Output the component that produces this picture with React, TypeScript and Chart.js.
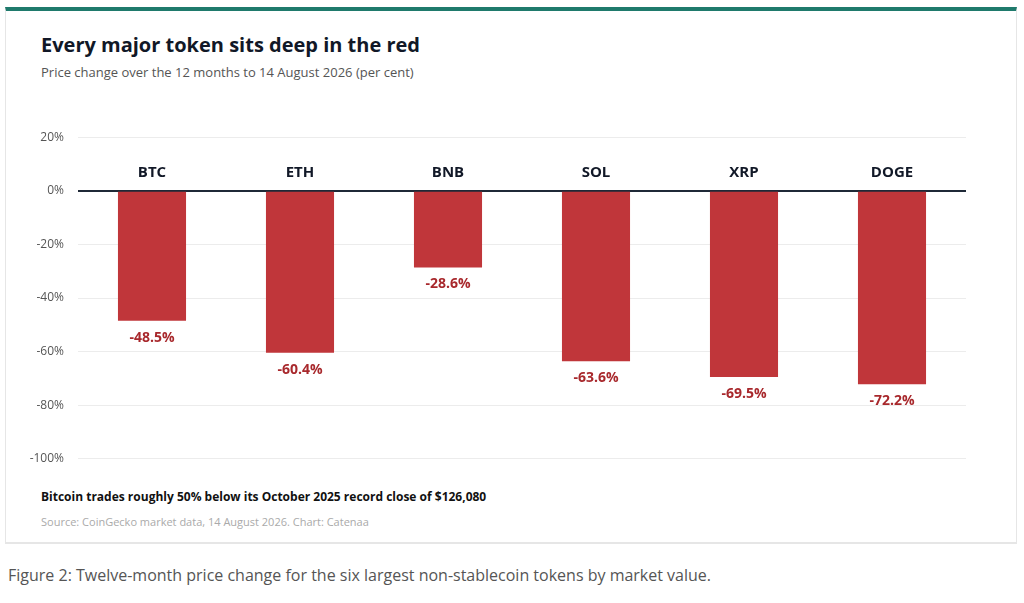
import { Chart, registerables } from "chart.js";
import { useEffect, useRef } from "react";

Chart.register(...registerables);

const tokens = ["BTC", "ETH", "BNB", "SOL", "XRP", "DOGE"];
const changes = [-48.5, -60.4, -28.6, -63.6, -69.5, -72.2];
const yTicks = [20, 0, -20, -40, -60, -80, -100];

const FONT = "'Open Sans', 'Noto Sans', sans-serif";

// draws ticker names above the zero line and values under each bar
const barLabels = {
  id: "barLabels",
  afterDatasetsDraw(chart: Chart) {
    const ctx = chart.ctx;
    const meta = chart.getDatasetMeta(0);
    const yZero = chart.scales.y.getPixelForValue(0);
    ctx.save();
    ctx.textAlign = "center";
    meta.data.forEach((bar: any, i: number) => {
      ctx.fillStyle = "#111827";
      ctx.font = `bold 15px ${FONT}`;
      ctx.textBaseline = "bottom";
      ctx.fillText(tokens[i], bar.x, yZero - 11);
      ctx.fillStyle = "#a8282c";
      ctx.font = `bold 14px ${FONT}`;
      ctx.textBaseline = "top";
      ctx.fillText(`${changes[i].toFixed(1)}%`, bar.x, bar.y + 10);
    });
    ctx.restore();
  },
};

export default function App() {
  const canvasRef = useRef<HTMLCanvasElement | null>(null);

  useEffect(() => {
    if (!canvasRef.current) return;
    const chart = new Chart(canvasRef.current, {
      type: "bar",
      data: {
        labels: tokens,
        datasets: [
          {
            data: changes,
            backgroundColor: "#c0363a",
            barPercentage: 0.46,
            categoryPercentage: 1,
          },
        ],
      },
      options: {
        animation: false,
        responsive: false,
        layout: { padding: { left: 20, right: 34, top: 12, bottom: 13 } },
        plugins: { legend: { display: false }, tooltip: { enabled: false } },
        scales: {
          x: { display: false },
          y: {
            min: -100,
            max: 20,
            afterFit: (s: any) => {
              s.width = 58;
            },
            afterBuildTicks: (s: any) => {
              s.ticks = yTicks.map((v) => ({ value: v }));
            },
            border: { display: false },
            grid: {
              color: (c: any) => (c.tick && c.tick.value === 0 ? "#1f2937" : "#ececec"),
              lineWidth: (c: any) => (c.tick && c.tick.value === 0 ? 2 : 1),
              drawTicks: false,
            },
            ticks: {
              padding: 14,
              color: "#555",
              font: { family: FONT, size: 12 },
              callback: (v: any) => `${v}%`,
            },
          },
        },
      },
      plugins: [barLabels],
    });
    return () => chart.destroy();
  }, []);

  return (
    <div style={{ position: "fixed", left: 0, top: 0, width: 1024, height: 603, background: "#fff", fontFamily: FONT }}>
      <div
        style={{
          position: "absolute",
          left: 5,
          top: 7,
          width: 1012,
          height: 537,
          borderTop: "4px solid #1f7a6c",
          borderLeft: "1px solid #e6e6e6",
          borderRight: "1px solid #e6e6e6",
          borderBottom: "2px solid #e6e6e6",
          boxSizing: "border-box",
        }}
      />
      <div style={{ position: "absolute", left: 41, top: 31, fontSize: 20, fontWeight: 700, color: "#111827" }}>
        Every major token sits deep in the red
      </div>
      <div style={{ position: "absolute", left: 41, top: 63, fontSize: 13, color: "#555" }}>
        Price change over the 12 months to 14 August 2026 (per cent)
      </div>
      <canvas ref={canvasRef} width={1000} height={364} style={{ position: "absolute", left: 0, top: 116 }} />
      <div style={{ position: "absolute", left: 41, top: 488, fontSize: 12, fontWeight: 700, color: "#111" }}>
        Bitcoin trades roughly 50% below its October 2025 record close of $126,080
      </div>
      <div style={{ position: "absolute", left: 41, top: 514, fontSize: 11, color: "#aaa" }}>
        Source: CoinGecko market data, 14 August 2026. Chart: Catenaa
      </div>
      <div style={{ position: "absolute", left: 8, top: 564, fontSize: 16, color: "#555" }}>
        Figure 2: Twelve-month price change for the six largest non-stablecoin tokens by market value.
      </div>
    </div>
  );
}
